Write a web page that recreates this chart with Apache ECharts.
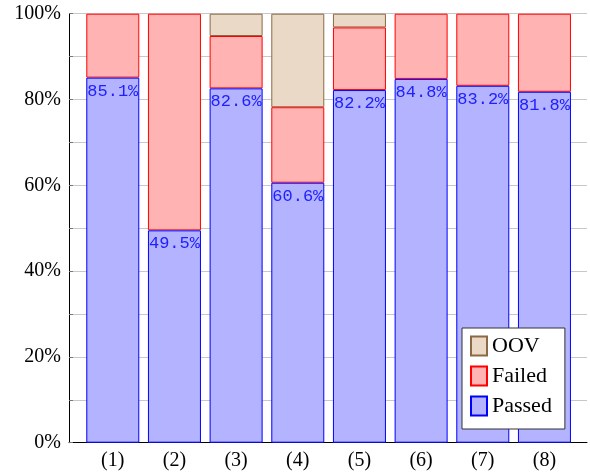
<!DOCTYPE html>
<html><head><meta charset="utf-8">
<script src="https://cdn.jsdelivr.net/npm/echarts@6/dist/echarts.min.js"></script>
<style>html,body{margin:0;padding:0;background:#fff}#c{width:590px;height:476px}</style>
</head><body><div id="c"></div>
<script>
const categories = ['(1)','(2)','(3)','(4)','(5)','(6)','(7)','(8)'];
const passed = [85.1, 49.5, 82.6, 60.6, 82.2, 84.8, 83.2, 81.8];
const failed = [14.9, 50.5, 12.2, 17.6, 14.6, 15.2, 16.8, 18.2];
const oov    = [0, 0, 5.2, 21.8, 3.2, 0, 0, 0];
const yTicks = [0, 20, 40, 60, 80, 100];

const pos = categories.map((c, i) => i + 1);
// value first so the stacked dimension is the y value; zero segments are not drawn
const toData = arr => arr.map((v, i) => [v === 0 ? '-' : v, pos[i]]);
const serif = 'Liberation Serif';

const chart = echarts.init(document.getElementById('c'), null, {renderer: 'canvas'});
chart.setOption({
  animation: false,
  grid: {left: 69, right: 3, top: 13.7, bottom: 33.3},
  xAxis: {
    type: 'value', min: 0.29, max: 8.69,
    axisLine: {show: true, onZero: false, lineStyle: {color: '#000', width: 1}},
    axisTick: {show: false},
    splitLine: {show: false},
    axisLabel: {
      customValues: pos, margin: 8,
      color: '#000', fontFamily: serif, fontSize: 20,
      formatter: v => categories[Math.round(v) - 1] || ''
    }
  },
  yAxis: {
    type: 'value', min: 0, max: 100, interval: 20,
    axisLine: {show: true, lineStyle: {color: '#000', width: 1}},
    axisTick: {show: true, inside: true, length: 4, lineStyle: {color: '#777'}},
    minorTick: {show: true, splitNumber: 2, length: 4, lineStyle: {color: '#777'}},
    splitLine: {show: true, lineStyle: {color: '#c8c8c8', width: 1}},
    minorSplitLine: {show: true, lineStyle: {color: '#c8c8c8', width: 1}},
    axisLabel: {
      customValues: yTicks, margin: 8,
      color: '#000', fontFamily: serif, fontSize: 20,
      formatter: v => v + '%'
    }
  },
  legend: {
    orient: 'vertical', left: 462, top: 328,
    data: ['OOV', 'Failed', 'Passed'],
    icon: 'rect', itemWidth: 16, itemHeight: 19, itemGap: 8,
    padding: [7, 13, 12, 8],
    backgroundColor: '#fff', borderColor: '#333', borderWidth: 1, borderRadius: 0,
    textStyle: {color: '#000', fontFamily: serif, fontSize: 22, lineHeight: 22},
    selectedMode: false,
    z: 10
  },
  series: [
    {
      name: 'Passed', type: 'bar', stack: 's', barWidth: 53, z: 4,
      encode: {x: 1, y: 0},
      data: toData(passed),
      itemStyle: {color: 'rgb(179,179,255)', borderColor: '#0000ff', borderWidth: 1},
      label: {
        show: true, position: 'insideTop', distance: 5,
        color: '#2020ff', fontFamily: 'Liberation Mono', fontSize: 17,
        formatter: p => p.value[0].toFixed(1) + '%'
      }
    },
    {
      name: 'Failed', type: 'bar', stack: 's', barWidth: 53, z: 3,
      encode: {x: 1, y: 0},
      data: toData(failed),
      itemStyle: {color: 'rgb(255,179,179)', borderColor: '#ff0000', borderWidth: 1}
    },
    {
      name: 'OOV', type: 'bar', stack: 's', barWidth: 53, z: 2,
      encode: {x: 1, y: 0},
      data: toData(oov),
      itemStyle: {color: 'rgb(234,217,198)', borderColor: 'rgb(140,105,70)', borderWidth: 1}
    }
  ]
});
</script></body></html>
